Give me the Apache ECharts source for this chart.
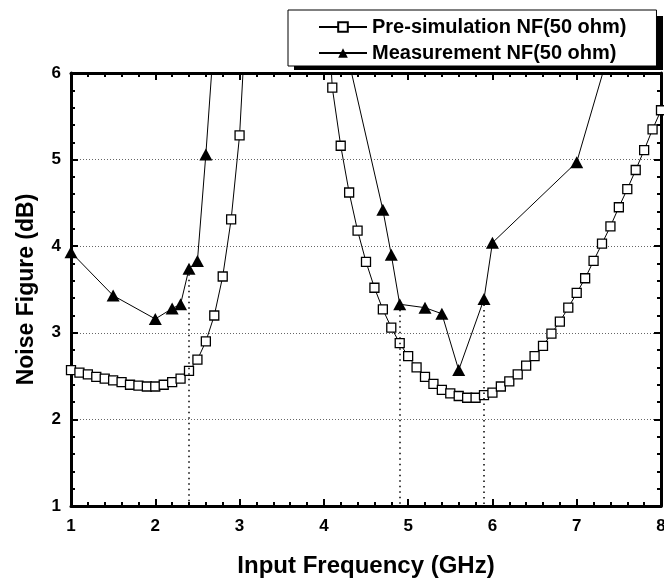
<!DOCTYPE html>
<html>
<head>
<meta charset="utf-8">
<script src="https://cdn.jsdelivr.net/npm/echarts@6/dist/echarts.min.js"></script>
<style>
html,body{margin:0;padding:0;background:#fff;}
#chart{width:664px;height:580px;}
</style>
</head>
<body>
<div id="chart"></div>
<script>
// ---- data ----
const preFreq = [1.0,1.1,1.2,1.3,1.4,1.5,1.6,1.7,1.8,1.9,2.0,2.1,2.2,2.3,2.4,2.5,2.6,2.7,2.8,2.9,3.0,3.1,
  4.0,4.1,4.2,4.3,4.4,4.5,4.6,4.7,4.8,4.9,5.0,5.1,5.2,5.3,5.4,5.5,5.6,5.7,5.8,5.9,6.0,
  6.1,6.2,6.3,6.4,6.5,6.6,6.7,6.8,6.9,7.0,7.1,7.2,7.3,7.4,7.5,7.6,7.7,7.8,7.9,8.0];
const preNF = [2.57,2.54,2.52,2.49,2.47,2.45,2.43,2.40,2.39,2.38,2.38,2.40,2.43,2.47,2.56,2.69,2.90,3.20,3.65,4.31,5.28,7.06,
  7.53,5.83,5.16,4.62,4.18,3.82,3.52,3.27,3.06,2.88,2.73,2.60,2.49,2.41,2.34,2.30,2.27,2.25,2.25,2.28,2.31,
  2.38,2.44,2.52,2.62,2.73,2.85,2.99,3.13,3.29,3.46,3.63,3.83,4.03,4.23,4.45,4.66,4.88,5.11,5.35,5.57];
const measFreq = [1.0,1.5,2.0,2.2,2.3,2.4,2.5,2.6,2.7,4.0,4.7,4.8,4.9,5.2,5.4,5.6,5.9,6.0,7.0,8.0];
const measNF   = [3.93,3.43,3.16,3.28,3.33,3.74,3.83,5.06,6.44,7.40,4.42,3.90,3.33,3.29,3.22,2.57,3.39,4.04,4.97,8.3];
const dropFreq = [2.4,4.9,5.9];
const xTicks = [1,2,3,4,5,6,7,8];
const yTicks = [1,2,3,4,5,6];
const seriesNames = ['Pre-simulation NF(50 ohm)','Measurement NF(50 ohm)'];
const xTitle = 'Input Frequency (GHz)';
const yTitle = 'Noise Figure (dB)';

const FONT = '"Liberation Sans", Arial, sans-serif';
const pairs = (xs, ys) => xs.map((x, i) => [x, ys[i]]);
const dropLines = dropFreq.map(f => {
  const v = measNF[measFreq.indexOf(f)];
  return [{coord: [f, v]}, {coord: [f, yTicks[0]]}];
});

const axisCommon = {
  type: 'value',
  axisLine: {show: true, onZero: false, lineStyle: {color: '#000', width: 3}},
  axisTick: {show: true, inside: true, length: 7, lineStyle: {color: '#000', width: 2}},
  minorTick: {show: true, splitNumber: 5, length: 4, lineStyle: {color: '#000', width: 2}},
  splitLine: {show: false}
};

const chart = echarts.init(document.getElementById('chart'), null, {renderer: 'canvas'});
chart.setOption({
  animation: false,
  backgroundColor: '#fff',
  grid: {left: 71, top: 73, right: 3, bottom: 74, containLabel: false, outerBoundsMode: 'none'},
  graphic: [
    {type: 'rect', left: 294, top: 16, shape: {width: 369, height: 54},
     style: {fill: '#000'}, z: 3, silent: true}
  ],
  legend: {
    orient: 'vertical',
    left: 288, top: 10,
    data: seriesNames,
    itemWidth: 48, itemHeight: 12, itemGap: 6,
    padding: [7, 30, 3, 30],
    backgroundColor: '#fff',
    borderColor: '#000', borderWidth: 1, borderRadius: 0,
    z: 10,
    textStyle: {color: '#000', fontFamily: FONT, fontWeight: 'bold', fontSize: 20}
  },
  xAxis: [
    Object.assign({}, axisCommon, {
      min: xTicks[0], max: xTicks[xTicks.length - 1], interval: 1, position: 'bottom',
      axisLabel: {color: '#000', fontFamily: FONT, fontWeight: 'bold', fontSize: 17, margin: 12},
      name: xTitle, nameLocation: 'middle', nameGap: 48,
      nameTextStyle: {color: '#000', fontFamily: FONT, fontWeight: 'bold', fontSize: 24}
    }),
    Object.assign({}, axisCommon, {
      min: xTicks[0], max: xTicks[xTicks.length - 1], interval: 1, position: 'top',
      axisLabel: {show: false}
    })
  ],
  yAxis: [
    Object.assign({}, axisCommon, {
      min: yTicks[0], max: yTicks[yTicks.length - 1], interval: 1, position: 'left',
      axisLabel: {color: '#000', fontFamily: FONT, fontWeight: 'bold', fontSize: 17, margin: 10},
      splitLine: {show: true, lineStyle: {color: '#666', width: 1, type: [1, 2]}},
      name: yTitle, nameLocation: 'middle', nameGap: 33,
      nameTextStyle: {color: '#000', fontFamily: FONT, fontWeight: 'bold', fontSize: 23}
    }),
    Object.assign({}, axisCommon, {
      min: yTicks[0], max: yTicks[yTicks.length - 1], interval: 1, position: 'right',
      axisLabel: {show: false}
    })
  ],
  series: [
    {
      name: seriesNames[0], type: 'line', xAxisIndex: 0, yAxisIndex: 0,
      data: pairs(preFreq, preNF),
      clip: true,
      symbol: 'rect', symbolSize: 9,
      lineStyle: {color: '#000', width: 1},
      itemStyle: {color: '#fff', borderColor: '#000', borderWidth: 1.3},
      z: 3
    },
    {
      name: seriesNames[1], type: 'line', xAxisIndex: 0, yAxisIndex: 0,
      data: pairs(measFreq, measNF),
      clip: true,
      symbol: 'triangle', symbolSize: [13, 12],
      lineStyle: {color: '#000', width: 1},
      itemStyle: {color: '#000', borderColor: '#000', borderWidth: 0},
      z: 4,
      markLine: {
        silent: true, symbol: ['none', 'none'],
        label: {show: false},
        lineStyle: {color: '#000', width: 1.5, type: [1.5, 4]},
        data: dropLines
      }
    }
  ]
});
</script>
</body>
</html>
